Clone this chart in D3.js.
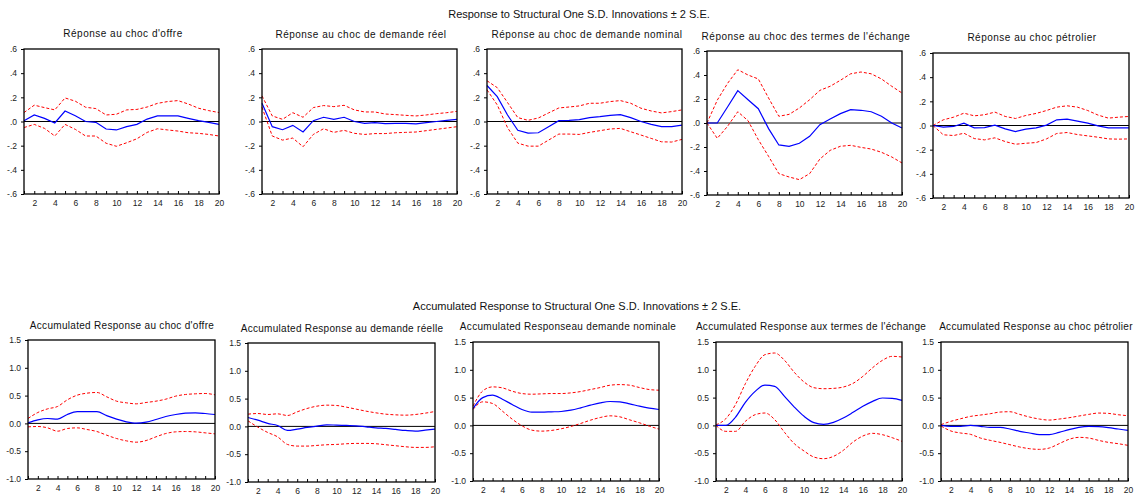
<!DOCTYPE html>
<html>
<head>
<meta charset="utf-8">
<script src="https://cdn.jsdelivr.net/npm/d3@7"></script>
<style>
  html, body { margin: 0; padding: 0; background: #fff; }
  svg { display: block; font-family: "Liberation Sans", Arial, sans-serif; }
  .panel-title { font-size: 10px; letter-spacing: 0.5px; fill: #111; }
  .panel-title.acc { letter-spacing: 0.3px; }
  .main-title { font-size: 11px; fill: #111; }
  .tick text { font-size: 8.5px; fill: #222; }
</style>
</head>
<body>
<svg id="chart" width="1136" height="497"></svg>
<script>
// Forecast horizon (periods)
const periods = d3.range(1, 21);

// Tick labels
const irfTicks = [0.6, 0.4, 0.2, 0.0, -0.2, -0.4, -0.6];
const irfTickLabels = [".6", ".4", ".2", ".0", "-.2", "-.4", "-.6"];
const accTicks = [1.5, 1.0, 0.5, 0.0, -0.5, -1.0];
const accTickLabels = ["1.5", "1.0", "0.5", "0.0", "-0.5", "-1.0"];
const xTickLabels = ["2", "4", "6", "8", "10", "12", "14", "16", "18", "20"];

// Titles
const mainTitleTop = "Response to Structural One S.D. Innovations \u00b1 2 S.E.";
const mainTitleBottom = "Accumulated Response to Structural One S.D. Innovations \u00b1 2 S.E.";
const irfTitles = [
  "Réponse au choc d'offre",
  "Réponse au choc de demande réel",
  "Réponse au choc de demande nominal",
  "Réponse au choc des termes de l'échange",
  "Réponse au choc pétrolier"
];
const accTitles = [
  "Accumulated Response au choc d'offre",
  "Accumulated Response au demande réelle",
  "Accumulated Responseau demande nominale",
  "Accumulated Response aux termes de l'échange",
  "Accumulated Response au choc pétrolier"
];

// Impulse responses (point estimate, +2 S.E., -2 S.E.)
const offreResp  = [0.007, 0.054, 0.026, -0.012, 0.087, 0.048, 0.0, -0.007, -0.062, -0.070, -0.043, -0.024, 0.020, 0.046, 0.046, 0.046, 0.026, 0.007, -0.007, -0.024];
const offreUpper = [0.074, 0.135, 0.115, 0.096, 0.195, 0.168, 0.118, 0.107, 0.054, 0.060, 0.096, 0.100, 0.120, 0.150, 0.165, 0.173, 0.145, 0.110, 0.090, 0.074];
const offreLower = [-0.050, -0.024, -0.057, -0.120, -0.024, -0.065, -0.120, -0.120, -0.180, -0.205, -0.176, -0.143, -0.090, -0.060, -0.070, -0.079, -0.093, -0.098, -0.107, -0.120];

const reelResp  = [0.151, -0.043, -0.068, -0.032, -0.087, 0.007, 0.035, 0.018, 0.035, 0.0, -0.015, -0.010, -0.018, -0.015, -0.015, -0.020, -0.010, 0.0, 0.010, 0.018];
const reelUpper = [0.212, 0.046, 0.018, 0.073, 0.035, 0.115, 0.132, 0.123, 0.134, 0.096, 0.079, 0.079, 0.062, 0.057, 0.051, 0.046, 0.054, 0.065, 0.073, 0.084];
const reelLower = [0.118, -0.120, -0.154, -0.137, -0.209, -0.107, -0.060, -0.090, -0.073, -0.098, -0.107, -0.100, -0.100, -0.093, -0.090, -0.087, -0.076, -0.065, -0.054, -0.043];

const nominalResp  = [0.298, 0.206, 0.054, -0.073, -0.096, -0.093, -0.043, 0.007, 0.010, 0.015, 0.032, 0.040, 0.051, 0.057, 0.032, 0.0, -0.024, -0.043, -0.043, -0.030];
const nominalUpper = [0.337, 0.280, 0.157, 0.032, 0.010, 0.029, 0.071, 0.112, 0.120, 0.129, 0.151, 0.151, 0.165, 0.173, 0.151, 0.110, 0.087, 0.071, 0.082, 0.096];
const nominalLower = [0.262, 0.137, -0.051, -0.179, -0.204, -0.204, -0.154, -0.104, -0.104, -0.107, -0.090, -0.076, -0.062, -0.057, -0.085, -0.112, -0.140, -0.168, -0.170, -0.148];

const termesResp  = [0.0, 0.0, 0.133, 0.270, 0.194, 0.119, -0.047, -0.183, -0.194, -0.169, -0.111, -0.014, 0.033, 0.078, 0.111, 0.106, 0.094, 0.056, 0.0, -0.042];
const termesUpper = [0.0, 0.190, 0.330, 0.444, 0.400, 0.367, 0.208, 0.056, 0.072, 0.125, 0.194, 0.272, 0.306, 0.356, 0.410, 0.425, 0.410, 0.367, 0.306, 0.250];
const termesLower = [0.0, -0.128, -0.028, 0.094, 0.019, -0.139, -0.278, -0.422, -0.450, -0.472, -0.422, -0.300, -0.228, -0.194, -0.186, -0.203, -0.217, -0.244, -0.283, -0.333];

const petroleResp  = [0.0, -0.014, -0.008, 0.019, -0.019, -0.017, 0.003, -0.028, -0.050, -0.030, -0.019, 0.003, 0.047, 0.053, 0.036, 0.019, -0.003, -0.019, -0.019, -0.019];
const petroleUpper = [0.0, 0.047, 0.069, 0.102, 0.080, 0.089, 0.111, 0.075, 0.058, 0.083, 0.100, 0.124, 0.152, 0.163, 0.152, 0.124, 0.086, 0.061, 0.069, 0.075];
const petroleLower = [0.0, -0.077, -0.083, -0.064, -0.108, -0.119, -0.102, -0.133, -0.155, -0.147, -0.141, -0.111, -0.066, -0.058, -0.075, -0.086, -0.097, -0.111, -0.113, -0.111];

// Accumulated responses
const accOffreResp  = [0.010, 0.064, 0.088, 0.076, 0.160, 0.210, 0.210, 0.210, 0.140, 0.076, 0.028, 0.004, 0.022, 0.070, 0.124, 0.160, 0.184, 0.190, 0.178, 0.160];
const accOffreUpper = [0.088, 0.196, 0.262, 0.304, 0.424, 0.508, 0.544, 0.556, 0.478, 0.400, 0.370, 0.352, 0.376, 0.400, 0.436, 0.490, 0.520, 0.532, 0.538, 0.514];
const accOffreLower = [-0.062, -0.056, -0.080, -0.140, -0.092, -0.080, -0.110, -0.146, -0.212, -0.272, -0.314, -0.338, -0.308, -0.242, -0.182, -0.152, -0.146, -0.152, -0.170, -0.188];

const accReelResp  = [0.160, 0.112, 0.053, 0.017, -0.073, -0.049, -0.019, 0.005, 0.029, 0.023, 0.017, 0.011, -0.007, -0.025, -0.037, -0.055, -0.073, -0.085, -0.067, -0.049];
const accReelUpper = [0.220, 0.232, 0.214, 0.226, 0.196, 0.262, 0.322, 0.364, 0.382, 0.376, 0.346, 0.310, 0.274, 0.244, 0.220, 0.208, 0.202, 0.214, 0.238, 0.268];
const accReelLower = [0.100, -0.013, -0.109, -0.187, -0.324, -0.354, -0.354, -0.342, -0.330, -0.324, -0.312, -0.306, -0.306, -0.312, -0.330, -0.348, -0.366, -0.378, -0.378, -0.366];

const accNominalResp  = [0.304, 0.500, 0.543, 0.471, 0.376, 0.286, 0.238, 0.238, 0.244, 0.250, 0.274, 0.316, 0.364, 0.406, 0.430, 0.424, 0.388, 0.346, 0.310, 0.286];
const accNominalUpper = [0.346, 0.621, 0.693, 0.675, 0.615, 0.573, 0.561, 0.567, 0.573, 0.573, 0.585, 0.609, 0.645, 0.681, 0.723, 0.734, 0.723, 0.681, 0.645, 0.633];
const accNominalLower = [0.286, 0.424, 0.394, 0.257, 0.113, -0.007, -0.085, -0.103, -0.091, -0.061, -0.019, 0.035, 0.094, 0.142, 0.172, 0.154, 0.100, 0.047, -0.013, -0.067];

const accTermesResp  = [0.0, 0.0, 0.150, 0.414, 0.612, 0.726, 0.702, 0.522, 0.330, 0.163, 0.049, 0.019, 0.055, 0.133, 0.235, 0.343, 0.433, 0.493, 0.487, 0.451];
const accTermesUpper = [0.010, 0.120, 0.378, 0.750, 1.062, 1.272, 1.302, 1.170, 0.954, 0.780, 0.678, 0.660, 0.666, 0.690, 0.756, 0.882, 1.038, 1.170, 1.242, 1.230];
const accTermesLower = [0.0, -0.107, -0.107, 0.073, 0.193, 0.223, 0.103, -0.125, -0.329, -0.461, -0.569, -0.599, -0.557, -0.449, -0.299, -0.191, -0.143, -0.167, -0.221, -0.287];

const accPetroleResp  = [0.0, -0.017, -0.017, 0.0, -0.017, -0.035, -0.035, -0.065, -0.107, -0.137, -0.167, -0.167, -0.125, -0.077, -0.035, -0.017, -0.023, -0.041, -0.065, -0.089];
const accPetroleUpper = [0.013, 0.073, 0.120, 0.162, 0.186, 0.210, 0.240, 0.246, 0.198, 0.150, 0.114, 0.096, 0.114, 0.138, 0.168, 0.198, 0.222, 0.216, 0.192, 0.174];
const accPetroleLower = [-0.010, -0.100, -0.137, -0.161, -0.227, -0.269, -0.305, -0.347, -0.389, -0.419, -0.431, -0.407, -0.329, -0.251, -0.215, -0.227, -0.269, -0.305, -0.329, -0.359];

// Panel frames: [left, right, top, bottom, title centre x, title baseline y]
const irfFrames = [
  [24, 219, 49, 194, 123, 37],
  [262, 457, 49, 194, 361, 38],
  [487, 682, 49, 194, 587, 38],
  [707, 902, 51, 195, 806, 40],
  [933, 1129, 53, 198, 1032, 41]
];
const accFrames = [
  [28, 215, 340, 479, 122, 329],
  [248, 435, 343, 482, 342, 332],
  [473, 659, 342, 481, 568, 330],
  [716, 902, 342, 481, 811, 330],
  [941, 1128, 342, 481, 1036, 330]
];

const irfSeries = [
  [offreResp, offreUpper, offreLower],
  [reelResp, reelUpper, reelLower],
  [nominalResp, nominalUpper, nominalLower],
  [termesResp, termesUpper, termesLower],
  [petroleResp, petroleUpper, petroleLower]
];
const accSeries = [
  [accOffreResp, accOffreUpper, accOffreLower],
  [accReelResp, accReelUpper, accReelLower],
  [accNominalResp, accNominalUpper, accNominalLower],
  [accTermesResp, accTermesUpper, accTermesLower],
  [accPetroleResp, accPetroleUpper, accPetroleLower]
];

const svg = d3.select("#chart");

svg.append("text").attr("class", "main-title")
  .attr("x", 579).attr("y", 18).attr("text-anchor", "middle").text(mainTitleTop);
svg.append("text").attr("class", "main-title")
  .attr("x", 577).attr("y", 310).attr("text-anchor", "middle").text(mainTitleBottom);

function drawPanel(frame, series, title, titleClass, domain, ticks, tickLabels, curve) {
  const [l, r, t, b, tx, ty] = frame;
  const x = d3.scaleLinear().domain([1, 20]).range([l, r]);
  const y = d3.scaleLinear().domain(domain).range([b, t]);
  const g = svg.append("g");

  g.append("text").attr("class", titleClass)
    .attr("x", tx).attr("y", ty).attr("text-anchor", "middle").text(title);

  // left axis
  const yAxis = d3.axisLeft(y).tickValues(ticks).tickSize(3).tickPadding(4)
    .tickFormat((d, i) => tickLabels[i]);
  const ya = g.append("g").attr("transform", `translate(${l},0)`).call(yAxis);
  ya.select(".domain").remove();
  ya.selectAll(".tick line").attr("stroke", "#000");

  // bottom axis: a tick every period, labels on even periods
  const xAxis = d3.axisBottom(x).tickValues(periods).tickSize(-3).tickPadding(6)
    .tickFormat(d => (d % 2 === 0 ? xTickLabels[d / 2 - 1] : ""));
  const xa = g.append("g").attr("transform", `translate(0,${b})`).call(xAxis);
  xa.select(".domain").remove();
  xa.selectAll(".tick line").attr("stroke", "#000");

  // zero line
  g.append("line")
    .attr("x1", l).attr("x2", r).attr("y1", y(0)).attr("y2", y(0))
    .attr("stroke", "#000").attr("stroke-width", 1);

  const line = d3.line().x((d, i) => x(periods[i])).y(d => y(d)).curve(curve);

  // confidence bands
  [series[1], series[2]].forEach(s => {
    g.append("path").datum(s).attr("d", line)
      .attr("fill", "none").attr("stroke", "#ff0000")
      .attr("stroke-width", 1).attr("stroke-dasharray", "3,2");
  });
  // point estimate
  g.append("path").datum(series[0]).attr("d", line)
    .attr("fill", "none").attr("stroke", "#0000ff").attr("stroke-width", 1.2);

  // frame
  g.append("rect").attr("x", l).attr("y", t).attr("width", r - l).attr("height", b - t)
    .attr("fill", "none").attr("stroke", "#000").attr("stroke-width", 1.3);
}

irfFrames.forEach((f, i) =>
  drawPanel(f, irfSeries[i], irfTitles[i], "panel-title", [-0.6, 0.6],
    irfTicks, irfTickLabels, d3.curveLinear));
accFrames.forEach((f, i) =>
  drawPanel(f, accSeries[i], accTitles[i], "panel-title acc", [-1.0, 1.5],
    accTicks, accTickLabels, d3.curveMonotoneX));
</script>
</body>
</html>
